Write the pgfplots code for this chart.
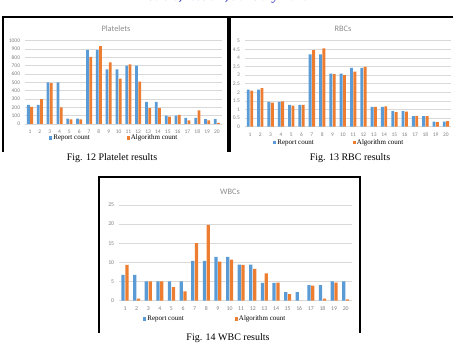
\documentclass[border=0pt]{standalone}
\usepackage{fontspec}
\setmainfont{Liberation Serif}
\newfontfamily\calib{Carlito}
\usepackage{pgfplots}
\usepackage{pgfplotstable}
\pgfplotsset{compat=1.18}

\definecolor{rep}{HTML}{5B9BD5}
\definecolor{alg}{HTML}{ED7D31}
\definecolor{gridc}{HTML}{D9D9D9}
\definecolor{tickc}{HTML}{808080}
\definecolor{titlec}{HTML}{8C8C8C}
\definecolor{hdr}{HTML}{3A3ACF}

% sample, report count, algorithm count
\pgfplotstableread{
n rep alg
1  230 205
2  230 300
3  500 490
4  500 200
5  65  55
6  65  55
7  890 805
8  890 935
9  655 740
10 655 545
11 700 715
12 700 510
13 265 190
14 265 190
15 100 90
16 100 110
17 75  45
18 75  165
19 60  45
20 60  15
}\platelets

\pgfplotstableread{
n rep alg
1  2.15 2.10
2  2.15 2.25
3  1.45 1.40
4  1.45 1.47
5  1.27 1.23
6  1.27 1.27
7  4.20 4.45
8  4.20 4.55
9  3.08 3.05
10 3.08 3.00
11 3.42 3.20
12 3.42 3.48
13 1.15 1.15
14 1.15 1.18
15 0.90 0.85
16 0.90 0.88
17 0.62 0.63
18 0.62 0.62
19 0.30 0.27
20 0.30 0.33
}\rbcs

\pgfplotstableread{
n rep alg
1  6.7  9.3
2  6.7  0.5
3  5.0  5.0
4  5.0  5.0
5  5.0  3.5
6  5.0  2.4
7  10.4 15.0
8  10.4 19.8
9  11.4 10.2
10 11.4 10.7
11 9.4  9.3
12 9.4  8.3
13 4.6  7.1
14 4.6  4.7
15 2.2  1.7
16 2.2  0.0
17 4.0  3.9
18 4.0  0.5
19 5.0  4.7
20 5.0  0.3
}\wbcs

\pgfplotsset{
  excelbars/.style={
    scale only axis,
    ybar,
    xmin=0.5, xmax=20.5, ymin=0,
    xtick={1,...,20},
    axis line style={draw=none},
    major tick length=0pt,
    ymajorgrids,
    grid style={gridc, line width=0.5pt},
    ticklabel style={font=\calib\fontsize{5.5}{6.5}\selectfont, text=tickc},
    /pgf/number format/assume math mode=true,
    /pgf/number format/1000 sep={},
    yticklabel style={xshift=-1.5pt},
    xticklabel style={yshift=-2.5pt},
    bar width=0.28,
    legend style={draw=none, fill=none, inner sep=0pt, anchor=west,
      font=\fontsize{7}{8}\selectfont, nodes={inner sep=1pt}},
    legend columns=2,
    legend image code/.code={\fill[##1] (0pt,-1.6pt) rectangle (3.2pt,1.6pt);},
  },
  repbar/.style={fill=rep, draw=none, bar shift=-0.165},
  algbar/.style={fill=alg, draw=none, bar shift=0.165},
}

\begin{document}
\begin{tikzpicture}
\path[use as bounding box] (0pt,0pt) rectangle (453pt,-353pt);

\begin{scope}[x=1pt,y=-1pt]
  % running header, cut by the page edge
  \begin{scope}
    \clip (0,0) rectangle (453,12);
    \node[anchor=base, text=hdr, font=\bfseries\itshape\fontsize{13.5}{14}\selectfont,
      inner sep=0pt] at (228,0.6) {Vol. 6, Issue 1, January 2018};
  \end{scope}

  % frames round the three charts
  \draw[line width=1.8pt] (3,152) -- (3,17) -- (228,17) -- (228,152);
  \draw[line width=1.5pt] (230,152) -- (230,17) -- (460,17);
  \draw[line width=1.6pt] (99,333) -- (99,177) -- (360,177) -- (360,333);

  % chart titles
  \node[font=\calib\fontsize{8.3}{9}\selectfont, text=titlec] at (116,29) {Platelets};
  \node[font=\calib\fontsize{8.3}{9}\selectfont, text=titlec] at (343,29) {RBCs};
  \node[font=\calib\fontsize{8.3}{9}\selectfont, text=titlec] at (230,192) {WBCs};

  % captions
  \node[font=\fontsize{10}{11}\selectfont] at (112,158) {Fig. 12 Platelet results};
  \node[font=\fontsize{10}{11}\selectfont] at (350,158) {Fig. 13 RBC results};
  \node[font=\fontsize{10}{11}\selectfont] at (228,338) {Fig. 14 WBC results};

  % lower left corners of the plot areas
  \coordinate (A) at (25.08,124);
  \coordinate (B) at (244.84,126.7);
  \coordinate (C) at (119.2,300.5);
\end{scope}

% Platelets
\begin{axis}[excelbars, at={(A)}, anchor=south west,
  width=196.8pt, height=83.3pt, ymax=1000, ytick distance=100,
  legend style={at={(0.1215,-0.168)},
    /tikz/every even column/.append style={column sep=36pt}}]
  \addplot[repbar] table[x=n, y=rep] {\platelets};
  \addplot[algbar] table[x=n, y=alg] {\platelets};
  \legend{Report count, Algorithm count}
\end{axis}

% RBCs
\begin{axis}[excelbars, at={(B)}, anchor=south west,
  width=206.3pt, height=86pt, ymax=5, ytick distance=0.5,
  legend style={at={(0.1365,-0.184)},
    /tikz/every even column/.append style={column sep=38pt}}]
  \addplot[repbar] table[x=n, y=rep] {\rbcs};
  \addplot[algbar] table[x=n, y=alg] {\rbcs};
  \legend{Report count, Algorithm count}
\end{axis}

% WBCs
\begin{axis}[excelbars, at={(C)}, anchor=south west,
  width=232.3pt, height=95.5pt, ymax=25, ytick distance=5,
  ticklabel style={font=\calib\fontsize{5.8}{6.8}\selectfont},
  legend style={at={(0.1025,-0.194)},
    /tikz/every even column/.append style={column sep=50pt}}]
  \addplot[repbar] table[x=n, y=rep] {\wbcs};
  \addplot[algbar] table[x=n, y=alg] {\wbcs};
  \legend{Report count, Algorithm count}
\end{axis}
\end{tikzpicture}
\end{document}
